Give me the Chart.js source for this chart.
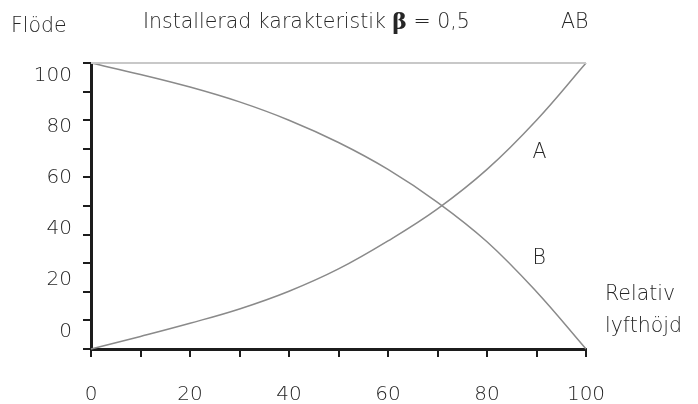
<!DOCTYPE html>
<html>
<head>
<meta charset="utf-8">
<script src="https://cdn.jsdelivr.net/npm/chart.js@4/dist/chart.umd.min.js"></script>
<style>
  html, body { margin: 0; padding: 0; background: #ffffff; }
  #wrap { width: 698px; height: 404px; }
</style>
</head>
<body>
<div id="wrap"><canvas id="c" width="698" height="404"></canvas></div>
<script>
// ---- data ----
const liftValues = [0, 10, 20, 30, 40, 50, 60, 70, 80, 90, 100];
const seriesA  = [0, 4.4, 9.0, 14.0, 20.2, 28.0, 37.8, 49.0, 62.8, 80.0, 100];
const seriesB  = [100, 96.0, 91.6, 86.4, 80.0, 72.2, 62.8, 51.3, 37.5, 20.0, 0];
const seriesAB = [100, 100, 100, 100, 100, 100, 100, 100, 100, 100, 100];
const xTickLabels = [0, 20, 40, 60, 80, 100];
const yTickLabels = [0, 20, 40, 60, 80, 100];
const xTickMarks = [0, 10, 20, 30, 40, 50, 60, 70, 80, 90, 100];
const yTickMarks = [0, 10, 20, 30, 40, 50, 60, 70, 80, 90, 100];

const titleText = 'Installerad karakteristik ';
const betaText = 'β';
const betaValue = ' = 0,5';
const yTitle = 'Flöde';
const xTitle = ['Relativ', 'lyfthöjd'];
const seriesNames = ['AB', 'A', 'B'];

const FONT = '"DejaVu Sans"';
const WEIGHT = 200;
const TXT = '#262626';
const AXIS = '#1c1c1c';

const toPts = arr => liftValues.map((x, i) => ({ x, y: arr[i] }));

const textPlugin = {
  id: 'texts',
  afterDraw(chart) {
    const ctx = chart.ctx;
    const xs = chart.scales.x;
    ctx.save();
    ctx.fillStyle = TXT;
    ctx.textBaseline = 'alphabetic';
    ctx.textAlign = 'left';
    const f = `${WEIGHT} 20.5px ${FONT}`;
    ctx.font = f;
    ctx.fillText(yTitle, 11, 32);
    // title
    let x0 = 143;
    ctx.fillText(titleText, x0, 28);
    x0 += ctx.measureText(titleText).width;
    ctx.font = `bold 22px "DejaVu Serif"`;
    ctx.fillText(betaText, x0, 29);
    x0 += ctx.measureText(betaText).width;
    ctx.font = f;
    ctx.fillText(betaValue, x0, 28);
    ctx.fillText(seriesNames[0], 561, 28);
    // series labels
    ctx.fillText(seriesNames[1], xs.getPixelForValue(89.2), 158);
    ctx.fillText(seriesNames[2], xs.getPixelForValue(89.2), 264);
    // x axis title
    ctx.fillText(xTitle[0], 605, 300);
    ctx.fillText(xTitle[1], 605, 332);
    ctx.restore();
  }
};

const lineDs = (label, data, color, width) => ({
  label, data: toPts(data), borderColor: color, borderWidth: width,
  pointRadius: 0, fill: false, clip: false, tension: 0.4
});

new Chart(document.getElementById('c'), {
  type: 'line',
  data: {
    datasets: [
      lineDs(seriesNames[0], seriesAB, '#c8c8c8', 2),
      lineDs(seriesNames[1], seriesA, '#8a8a8a', 1.5),
      lineDs(seriesNames[2], seriesB, '#8a8a8a', 1.5)
    ]
  },
  options: {
    responsive: false,
    animation: false,
    layout: { padding: { top: 63, right: 112, left: 0, bottom: 0 } },
    plugins: { legend: { display: false }, tooltip: { enabled: false }, title: { display: false } },
    scales: {
      x: {
        type: 'linear', min: 0, max: 100, position: 'bottom',
        border: { display: true, color: AXIS, width: 3 },
        grid: { drawOnChartArea: false, drawTicks: true, tickLength: 8, color: AXIS, lineWidth: 2 },
        afterBuildTicks: s => { s.ticks = xTickMarks.map(v => ({ value: v })); },
        ticks: {
          autoSkip: false, maxRotation: 0, padding: 26,
          color: TXT, font: { family: FONT, size: 20, weight: WEIGHT },
          callback: v => (xTickLabels.includes(v) ? String(v) : '')
        },
        afterFit: s => { s.height = 55; }
      },
      y: {
        type: 'linear', min: 0, max: 100, position: 'left', weight: 0,
        border: { display: true, color: AXIS, width: 3 },
        grid: { drawOnChartArea: false, drawTicks: true, tickLength: 8, color: AXIS, lineWidth: 2 },
        afterBuildTicks: s => { s.ticks = yTickMarks.map(v => ({ value: v })); },
        ticks: { callback: () => '', padding: 0 },
        afterFit: s => { s.width = 10; }
      },
      yl: {
        type: 'linear', min: -6.9, max: 105, position: 'left', weight: 1,
        border: { display: false },
        grid: { display: false, drawTicks: false },
        afterBuildTicks: s => { s.ticks = yTickLabels.map(v => ({ value: v })); },
        ticks: {
          padding: 9, color: TXT, font: { family: FONT, size: 20, weight: WEIGHT },
          callback: v => String(v)
        },
        afterFit: s => { s.width = 81; }
      }
    }
  },
  plugins: [textPlugin]
});
</script>
</body>
</html>
